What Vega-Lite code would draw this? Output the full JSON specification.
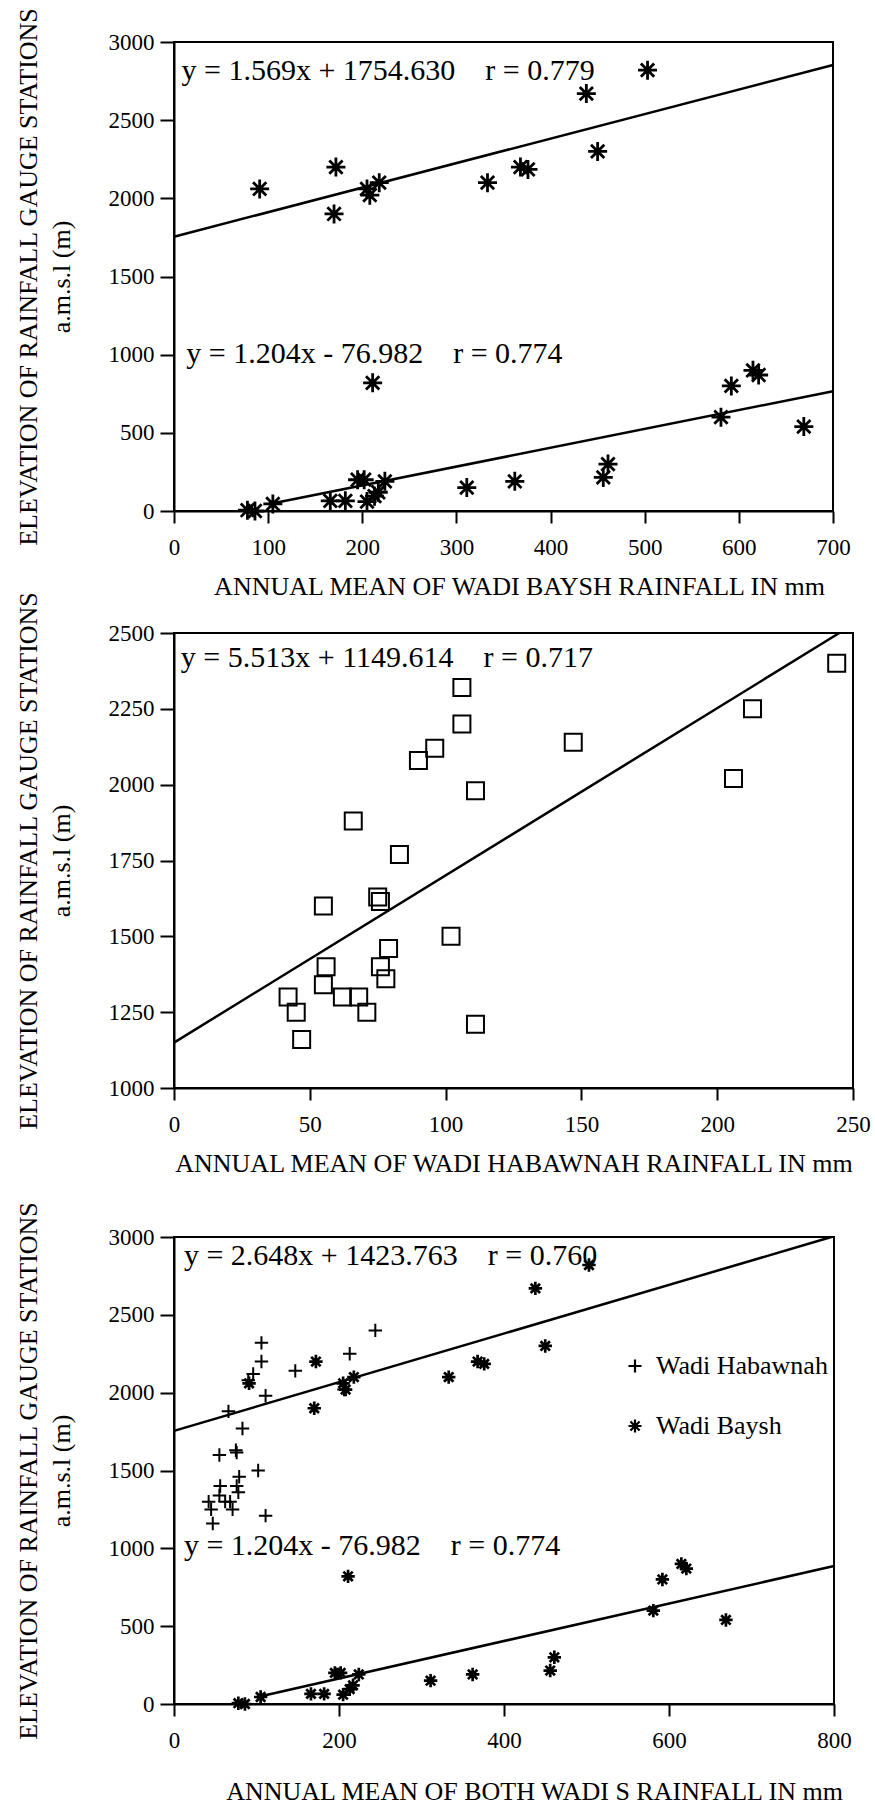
{
  "$schema": "https://vega.github.io/schema/vega-lite/v6.json",
  "padding": {"left": 13, "top": 6, "right": 0, "bottom": 0},
  "background": "white",
  "datasets": {
    "baysh": [
      {"wadi": "Wadi Baysh", "rain": 91, "elev": 2060},
      {"wadi": "Wadi Baysh", "rain": 172, "elev": 2200},
      {"wadi": "Wadi Baysh", "rain": 170, "elev": 1900},
      {"wadi": "Wadi Baysh", "rain": 205, "elev": 2060},
      {"wadi": "Wadi Baysh", "rain": 208, "elev": 2020},
      {"wadi": "Wadi Baysh", "rain": 218, "elev": 2100},
      {"wadi": "Wadi Baysh", "rain": 333, "elev": 2100},
      {"wadi": "Wadi Baysh", "rain": 368, "elev": 2200},
      {"wadi": "Wadi Baysh", "rain": 376, "elev": 2185},
      {"wadi": "Wadi Baysh", "rain": 438, "elev": 2670},
      {"wadi": "Wadi Baysh", "rain": 450, "elev": 2300},
      {"wadi": "Wadi Baysh", "rain": 503, "elev": 2820},
      {"wadi": "Wadi Baysh", "rain": 78, "elev": 5},
      {"wadi": "Wadi Baysh", "rain": 86, "elev": 0},
      {"wadi": "Wadi Baysh", "rain": 105, "elev": 45},
      {"wadi": "Wadi Baysh", "rain": 166, "elev": 65},
      {"wadi": "Wadi Baysh", "rain": 182, "elev": 65},
      {"wadi": "Wadi Baysh", "rain": 195, "elev": 200},
      {"wadi": "Wadi Baysh", "rain": 202, "elev": 200},
      {"wadi": "Wadi Baysh", "rain": 205, "elev": 60},
      {"wadi": "Wadi Baysh", "rain": 213, "elev": 95},
      {"wadi": "Wadi Baysh", "rain": 217, "elev": 120},
      {"wadi": "Wadi Baysh", "rain": 224, "elev": 190},
      {"wadi": "Wadi Baysh", "rain": 211, "elev": 820},
      {"wadi": "Wadi Baysh", "rain": 311, "elev": 150},
      {"wadi": "Wadi Baysh", "rain": 362, "elev": 190},
      {"wadi": "Wadi Baysh", "rain": 456, "elev": 215},
      {"wadi": "Wadi Baysh", "rain": 461, "elev": 300},
      {"wadi": "Wadi Baysh", "rain": 581, "elev": 600},
      {"wadi": "Wadi Baysh", "rain": 592, "elev": 800},
      {"wadi": "Wadi Baysh", "rain": 615, "elev": 900},
      {"wadi": "Wadi Baysh", "rain": 621, "elev": 870},
      {"wadi": "Wadi Baysh", "rain": 669, "elev": 540}
    ],
    "habawnah": [
      {"wadi": "Wadi Habawnah", "rain": 106, "elev": 2320},
      {"wadi": "Wadi Habawnah", "rain": 106, "elev": 2200},
      {"wadi": "Wadi Habawnah", "rain": 96, "elev": 2120},
      {"wadi": "Wadi Habawnah", "rain": 90, "elev": 2080},
      {"wadi": "Wadi Habawnah", "rain": 147, "elev": 2140},
      {"wadi": "Wadi Habawnah", "rain": 213, "elev": 2250},
      {"wadi": "Wadi Habawnah", "rain": 244, "elev": 2400},
      {"wadi": "Wadi Habawnah", "rain": 206, "elev": 2020},
      {"wadi": "Wadi Habawnah", "rain": 111, "elev": 1980},
      {"wadi": "Wadi Habawnah", "rain": 66, "elev": 1880},
      {"wadi": "Wadi Habawnah", "rain": 83, "elev": 1770},
      {"wadi": "Wadi Habawnah", "rain": 75, "elev": 1630},
      {"wadi": "Wadi Habawnah", "rain": 76, "elev": 1615},
      {"wadi": "Wadi Habawnah", "rain": 55, "elev": 1600},
      {"wadi": "Wadi Habawnah", "rain": 102, "elev": 1500},
      {"wadi": "Wadi Habawnah", "rain": 79, "elev": 1460},
      {"wadi": "Wadi Habawnah", "rain": 56, "elev": 1400},
      {"wadi": "Wadi Habawnah", "rain": 76, "elev": 1400},
      {"wadi": "Wadi Habawnah", "rain": 78, "elev": 1360},
      {"wadi": "Wadi Habawnah", "rain": 55, "elev": 1340},
      {"wadi": "Wadi Habawnah", "rain": 42, "elev": 1300},
      {"wadi": "Wadi Habawnah", "rain": 62, "elev": 1300},
      {"wadi": "Wadi Habawnah", "rain": 68, "elev": 1300},
      {"wadi": "Wadi Habawnah", "rain": 45, "elev": 1250},
      {"wadi": "Wadi Habawnah", "rain": 71, "elev": 1250},
      {"wadi": "Wadi Habawnah", "rain": 47, "elev": 1160},
      {"wadi": "Wadi Habawnah", "rain": 111, "elev": 1210}
    ],
    "fit_baysh": [
      {"fit": "a", "rain": 0, "elev": 1754.63},
      {"fit": "a", "rain": 700, "elev": 2852.93},
      {"fit": "b", "rain": 100, "elev": 43.42},
      {"fit": "b", "rain": 700, "elev": 765.82}
    ],
    "fit_habawnah": [
      {"fit": "a", "rain": 0, "elev": 1149.61},
      {"fit": "a", "rain": 244.95, "elev": 2500}
    ],
    "fit_both": [
      {"fit": "a", "rain": 0, "elev": 1754.63},
      {"fit": "a", "rain": 796.8, "elev": 3000},
      {"fit": "b", "rain": 100, "elev": 43.42},
      {"fit": "b", "rain": 800, "elev": 886.22}
    ]
  },
  "vconcat": [
    {
      "vconcat": [
        {
          "width": 659,
          "height": 469,
          "layer": [
            {
              "data": {"name": "baysh"},
              "mark": {"type": "point", "shape": "M-1,0L1,0M0,-1L0,1M-0.7,-0.7L0.7,0.7M-0.7,0.7L0.7,-0.7", "size": 361, "filled": false, "stroke": "black", "strokeWidth": 2.8, "opacity": 1},
              "encoding": {
                "x": {"field": "rain", "type": "quantitative", "scale": {"domain": [0, 700], "nice": false, "zero": false},
                  "axis": {"values": [0, 100, 200, 300, 400, 500, 600, 700], "format": "d", "title": "ANNUAL MEAN OF WADI BAYSH RAINFALL IN mm", "titleX": 345}},
                "y": {"field": "elev", "type": "quantitative", "scale": {"domain": [0, 3000], "nice": false, "zero": false},
                  "axis": {"values": [0, 250, 500, 750, 1000, 1250, 1500, 1750, 2000, 2250, 2500, 2750, 3000], "format": "d", "title": ["ELEVATION OF RAINFALL GAUGE STATIONS", "a.m.s.l (m)"]}}
              }
            },
            {
              "data": {"name": "fit_baysh"},
              "mark": {"type": "line", "color": "black", "strokeWidth": 2.5},
              "encoding": {
                "x": {"field": "rain", "type": "quantitative"},
                "y": {"field": "elev", "type": "quantitative"},
                "detail": {"field": "fit", "type": "nominal"}
              }
            },
            {
              "data": {"values": [{}]},
              "mark": {"type": "text", "align": "left", "baseline": "middle", "fontSize": 30, "font": "Liberation Serif", "color": "black"},
              "encoding": {"x": {"datum": 8}, "y": {"datum": 2817}, "text": {"value": "y = 1.569x + 1754.630\u00a0\u00a0\u00a0\u00a0r = 0.779"}}
            },
            {
              "data": {"values": [{}]},
              "mark": {"type": "text", "align": "left", "baseline": "middle", "fontSize": 30, "font": "Liberation Serif", "color": "black"},
              "encoding": {"x": {"datum": 13}, "y": {"datum": 1005}, "text": {"value": "y = 1.204x - 76.982\u00a0\u00a0\u00a0\u00a0r = 0.774"}}
            }
          ]
        },
        {
          "width": 679,
          "height": 455,
          "layer": [
            {
              "data": {"name": "habawnah"},
              "mark": {"type": "point", "shape": "square", "size": 289, "filled": false, "stroke": "black", "strokeWidth": 2, "opacity": 1},
              "encoding": {
                "x": {"field": "rain", "type": "quantitative", "scale": {"domain": [0, 250], "nice": false, "zero": false},
                  "axis": {"values": [0, 50, 100, 150, 200, 250], "format": "d", "title": "ANNUAL MEAN OF WADI HABAWNAH RAINFALL IN mm"}},
                "y": {"field": "elev", "type": "quantitative", "scale": {"domain": [1000, 2500], "nice": false, "zero": false},
                  "axis": {"values": [1000, 1250, 1500, 1750, 2000, 2250, 2500], "format": "d", "title": ["ELEVATION OF RAINFALL GAUGE STATIONS", "a.m.s.l (m)"]}}
              }
            },
            {
              "data": {"name": "fit_habawnah"},
              "mark": {"type": "line", "color": "black", "strokeWidth": 2.5},
              "encoding": {
                "x": {"field": "rain", "type": "quantitative"},
                "y": {"field": "elev", "type": "quantitative"}
              }
            },
            {
              "data": {"values": [{}]},
              "mark": {"type": "text", "align": "left", "baseline": "middle", "fontSize": 30, "font": "Liberation Serif", "color": "black"},
              "encoding": {"x": {"datum": 2.5}, "y": {"datum": 2416}, "text": {"value": "y = 5.513x + 1149.614\u00a0\u00a0\u00a0\u00a0r = 0.717"}}
            }
          ]
        }
      ],
      "spacing": 122,
      "bounds": "flush"
    },
    {
      "width": 660,
      "height": 467,
      "layer": [
        {
          "data": {"name": "baysh"},
          "mark": {"type": "point", "size": 180, "filled": false, "stroke": "black", "strokeWidth": 2.7, "opacity": 1},
          "encoding": {
            "x": {"field": "rain", "type": "quantitative", "scale": {"domain": [0, 800], "nice": false, "zero": false},
              "axis": {"values": [0, 200, 400, 600, 800], "format": "d", "title": "ANNUAL MEAN OF BOTH WADI S RAINFALL IN mm", "titlePadding": 26, "titleX": 360}},
            "y": {"field": "elev", "type": "quantitative", "scale": {"domain": [0, 3000], "nice": false, "zero": false},
              "axis": {"values": [0, 250, 500, 750, 1000, 1250, 1500, 1750, 2000, 2250, 2500, 2750, 3000], "format": "d", "title": ["ELEVATION OF RAINFALL GAUGE STATIONS", "a.m.s.l (m)"]}},
            "shape": {"field": "wadi", "type": "nominal",
              "scale": {"domain": ["Wadi Habawnah", "Wadi Baysh"], "range": ["M-1,0L1,0M0,-1L0,1", "M-1,0L1,0M0,-1L0,1M-0.7,-0.7L0.7,0.7M-0.7,0.7L0.7,-0.7"]},
              "legend": {"title": null, "orient": "none", "legendX": 448, "legendY": 1311, "labelFontSize": 26, "labelFont": "Liberation Serif", "labelColor": "black", "labelLimit": 0, "symbolSize": 170, "symbolStrokeWidth": 2.2, "symbolStrokeColor": "black", "symbolFillColor": "transparent", "rowPadding": 34, "labelOffset": 8, "padding": 0}}
          }
        },
        {
          "data": {"name": "habawnah"},
          "mark": {"type": "point", "size": 180, "filled": false, "stroke": "black", "strokeWidth": 2, "opacity": 1},
          "encoding": {
            "x": {"field": "rain", "type": "quantitative"},
            "y": {"field": "elev", "type": "quantitative"},
            "shape": {"field": "wadi", "type": "nominal",
              "scale": {"domain": ["Wadi Habawnah", "Wadi Baysh"], "range": ["M-1,0L1,0M0,-1L0,1", "M-1,0L1,0M0,-1L0,1M-0.7,-0.7L0.7,0.7M-0.7,0.7L0.7,-0.7"]},
              "legend": {"title": null, "orient": "none", "legendX": 448, "legendY": 1311, "labelFontSize": 26, "labelFont": "Liberation Serif", "labelColor": "black", "labelLimit": 0, "symbolSize": 170, "symbolStrokeWidth": 2.2, "symbolStrokeColor": "black", "symbolFillColor": "transparent", "rowPadding": 34, "labelOffset": 8, "padding": 0}}
          }
        },
        {
          "data": {"name": "fit_both"},
          "mark": {"type": "line", "color": "black", "strokeWidth": 2.5},
          "encoding": {
            "x": {"field": "rain", "type": "quantitative"},
            "y": {"field": "elev", "type": "quantitative"},
            "detail": {"field": "fit", "type": "nominal"}
          }
        },
        {
          "data": {"values": [{}]},
          "mark": {"type": "text", "align": "left", "baseline": "middle", "fontSize": 30, "font": "Liberation Serif", "color": "black"},
          "encoding": {"x": {"datum": 12}, "y": {"datum": 2877}, "text": {"value": "y = 2.648x + 1423.763\u00a0\u00a0\u00a0\u00a0r = 0.760"}}
        },
        {
          "data": {"values": [{}]},
          "mark": {"type": "text", "align": "left", "baseline": "middle", "fontSize": 30, "font": "Liberation Serif", "color": "black"},
          "encoding": {"x": {"datum": 12}, "y": {"datum": 1017}, "text": {"value": "y = 1.204x - 76.982\u00a0\u00a0\u00a0\u00a0r = 0.774"}}
        }
      ]
    }
  ],
  "spacing": 23,
  "bounds": "full",
  "config": {
    "font": "Liberation Serif",
    "view": {"stroke": "black", "strokeWidth": 2},
    "axis": {
      "grid": false,
      "domainColor": "black",
      "domainWidth": 2,
      "tickColor": "black",
      "tickWidth": 2,
      "labelFont": "Liberation Serif",
      "labelFontSize": 23,
      "labelColor": "black",
      "labelFlush": false,
      "labelOverlap": false,
      "titleFont": "Liberation Serif",
      "titleFontSize": 26,
      "titleFontWeight": "normal",
      "titleColor": "black",
      "titleLineHeight": 33
    },
    "axisX": {"tickSize": 12, "labelPadding": 13, "titlePadding": 14},
    "axisY": {"tickSize": 14, "labelPadding": 6, "titlePadding": 34}
  }
}
